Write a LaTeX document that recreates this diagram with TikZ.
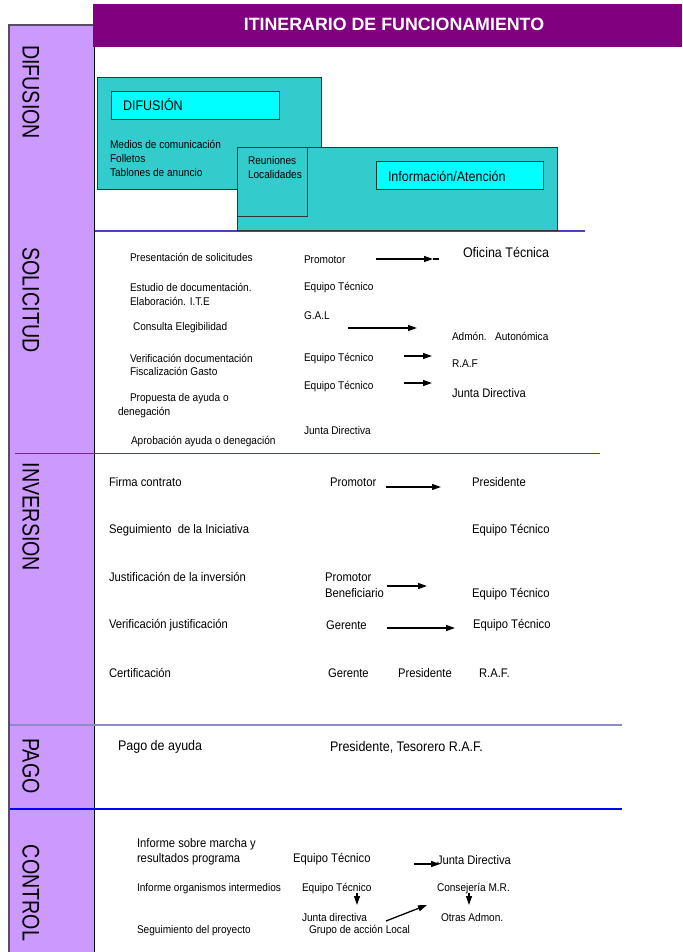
\documentclass[tikz,border=0pt]{standalone}
\usepackage{fontspec}
\setmainfont[FakeStretch=0.9]{Liberation Sans}
\newfontfamily\headfont{Liberation Sans}
\usetikzlibrary{arrows.meta}
\definecolor{colband}{HTML}{CC99FF}
\definecolor{colhead}{HTML}{800080}
\definecolor{colteal}{HTML}{33CCCC}
\definecolor{colcyan}{HTML}{00FFFF}
\definecolor{colbord}{HTML}{5A4A66}
\definecolor{lineA}{HTML}{4B40BF}
\definecolor{lineB}{HTML}{40409F}
\definecolor{lineC}{HTML}{8C8CC8}
\definecolor{lineD}{HTML}{0000FF}
\begin{document}
\begin{tikzpicture}[x=1pt,y=-1pt,
  txt/.style={anchor=west,inner sep=0pt,outer sep=0pt},
  fa/.style={txt,font=\fontsize{11.2}{12}\selectfont},
  fb/.style={txt,font=\fontsize{12.5}{13}\selectfont},
  fc/.style={txt,font=\fontsize{13.9}{14}\selectfont},
  fj/.style={txt,font=\fontsize{12.4}{13}\selectfont},
  vlab/.style={rotate=-90,inner sep=0pt,font=\fontsize{24}{24}\selectfont},
  arr/.style={line width=1.3pt,-{Triangle[length=9pt,width=6pt]}},
  tealbox/.style={fill=colteal,draw=black!80,line width=0.8pt},
  cyanbox/.style={fill=colcyan,draw=black!80,line width=0.8pt}]
\useasboundingbox (0,0) rectangle (682,952);
\fill[white] (0,0) rectangle (682,952);

% left band
\fill[colband] (9,25) rectangle (94,952);
\draw[colbord,line width=1.2pt] (9,952) -- (9,25) -- (94,25);
\draw[black,line width=1pt] (94,25) -- (94,952);

% header
\fill[colhead] (93,4) rectangle (682,47);
\node[inner sep=0pt,text=white,font=\headfont\bfseries\fontsize{17.8}{18}\selectfont] (title) at (394,24) {ITINERARIO DE FUNCIONAMIENTO};

% vertical labels
\node[vlab] (lDif) at (31,92) {\scalebox{0.91}[1]{DIFUSION}};
\node[vlab] (lSol) at (31,300) {\scalebox{0.91}[1]{SOLICITUD}};
\node[vlab] (lInv) at (31,517) {\scalebox{0.91}[1]{INVERSION}};
\node[vlab] (lPag) at (31,766) {\scalebox{0.91}[1]{PAGO}};
\node[vlab] (lCon) at (31,893) {\scalebox{0.91}[1]{CONTROL}};

% separator lines
\draw[lineA,line width=1.3pt] (95,231) -- (585,231);
\draw[lineB,line width=1pt] (15,453) -- (600,453);
\draw[lineC,line width=1.6pt] (10,725) -- (622,725);
\draw[lineD,line width=1.2pt] (10,809) -- (622,809);

% DIFUSION boxes
\draw[tealbox] (97,77) rectangle (321,189);
\draw[cyanbox] (111,91) rectangle (279,119);
\draw[tealbox] (237,147) rectangle (557,230);
\draw[tealbox] (237,147) rectangle (307,216);
\draw[cyanbox] (376,161) rectangle (543,189);
\node[fc] (tDif) at (123,105) {DIFUSIÓN};
\node[fa] (tMed) at (110,144) {Medios de comunicación};
\node[fa] (tFol) at (110,158) {Folletos};
\node[fa] (tTab) at (110,172) {Tablones de anuncio};
\node[fa] (tReu) at (248,160) {Reuniones};
\node[fa] (tLoc) at (248,174) {Localidades};
\node[fc] (tInfo) at (388,176) {Información/Atención};

% SOLICITUD
\node[fa] (s1) at (130,257) {Presentación de solicitudes};
\node[fa] (s1p) at (304,260) {Promotor};
\node[fc] (s1o) at (463,252) {Oficina Técnica};
\node[fa] (s2a) at (130,287) {Estudio de documentación.};
\node[fa] (s2b) at (130,301) {Elaboración. I.T.E};
\node[fa] (s2e) at (304,288) {Equipo Técnico};
\node[fa] (s3g) at (304,316) {G.A.L};
\node[fa] (s3) at (133,328) {Consulta Elegibilidad};
\node[fa] (s3a) at (452,336) {Admón.\ \ \ Autonómica};
\node[fa] (s4a) at (130,358) {Verificación documentación};
\node[fa] (s4b) at (130,371) {Fiscalización Gasto};
\node[fa] (s4e) at (304,359) {Equipo Técnico};
\node[fa] (s4r) at (452,364) {R.A.F};
\node[fa] (s5e) at (304,387) {Equipo Técnico};
\node[fj] (s5j) at (452,393) {Junta Directiva};
\node[fa] (s5a) at (130,399) {Propuesta de ayuda o};
\node[fa] (s5b) at (118,413) {denegación};
\node[fa] (s6j) at (304,430) {Junta Directiva};
\node[fa] (s6) at (131,442) {Aprobación ayuda o denegación};

\coordinate (a1s) at (376,259); \coordinate (a1e) at (433,259); \coordinate (a1x) at (439,259);
\draw[line width=1.3pt] (a1e) -- (a1x);
\draw[arr] (a1s) -- (a1e);
\coordinate (a2s) at (348,328); \coordinate (a2e) at (417,328);
\draw[arr] (a2s) -- (a2e);
\coordinate (a3s) at (404,356); \coordinate (a3e) at (432,356);
\draw[arr] (a3s) -- (a3e);
\coordinate (a4s) at (404,383); \coordinate (a4e) at (432,383);
\draw[arr] (a4s) -- (a4e);

% INVERSION
\node[fb] (i1) at (109,482) {Firma contrato};
\node[fb] (i1p) at (330,482) {Promotor};
\node[fb] (i1r) at (472,482) {Presidente};
\node[fb] (i2) at (109,530) {Seguimiento\ \ de la Iniciativa};
\node[fb] (i2e) at (472,530) {Equipo Técnico};
\node[fb] (i3) at (109,577) {Justificación de la inversión};
\node[fb] (i3p) at (325,577) {Promotor};
\node[fb] (i3b) at (325,593) {Beneficiario};
\node[fb] (i3e) at (472,594) {Equipo Técnico};
\node[fb] (i4) at (109,625) {Verificación justificación};
\node[fb] (i4g) at (326,625) {Gerente};
\node[fb] (i4e) at (473,625) {Equipo Técnico};
\node[fb] (i5) at (109,673) {Certificación};
\node[fb] (i5g) at (328,673) {Gerente};
\node[fb] (i5p) at (398,673) {Presidente};
\node[fb] (i5r) at (479,673) {R.A.F.};

\coordinate (a5s) at (386,487); \coordinate (a5e) at (441,487);
\draw[arr] (a5s) -- (a5e);
\coordinate (a6s) at (387,586); \coordinate (a6e) at (427,586);
\draw[arr] (a6s) -- (a6e);
\coordinate (a7s) at (387,628); \coordinate (a7e) at (455,628);
\draw[arr] (a7s) -- (a7e);

% PAGO
\node[fc] (p1) at (118,747) {Pago de ayuda};
\node[fc] (p2) at (330,747) {Presidente, Tesorero R.A.F.};

% CONTROL
\node[fb] (c1a) at (137,844) {Informe sobre marcha y};
\node[fb] (c1b) at (137,859) {resultados programa};
\node[fb] (c1e) at (293,859) {Equipo Técnico};
\node[fj] (c1j) at (437,860) {Junta Directiva};
\node[fa] (c2) at (137,889) {Informe organismos intermedios};
\node[fa] (c2e) at (302,889) {Equipo Técnico};
\node[fa] (c2c) at (437,889) {Consejería M.R.};
\node[fa] (c3j) at (302,917) {Junta directiva};
\node[fa] (c3o) at (441,917) {Otras Admon.};
\node[fa] (c4) at (137,931) {Seguimiento del proyecto};
\node[fa] (c4g) at (309,931) {Grupo de acción Local};

\coordinate (a8s) at (414,864); \coordinate (a8e) at (440,864);
\draw[arr] (a8s) -- (a8e);
\coordinate (a9s) at (357,893); \coordinate (a9e) at (357,905);
\draw[arr] (a9s) -- (a9e);
\coordinate (a10s) at (469,893); \coordinate (a10e) at (469,905);
\draw[arr] (a10s) -- (a10e);
\coordinate (a11s) at (386,921); \coordinate (a11e) at (427,905);
\draw[arr] (a11s) -- (a11e);
\end{tikzpicture}
\end{document}
